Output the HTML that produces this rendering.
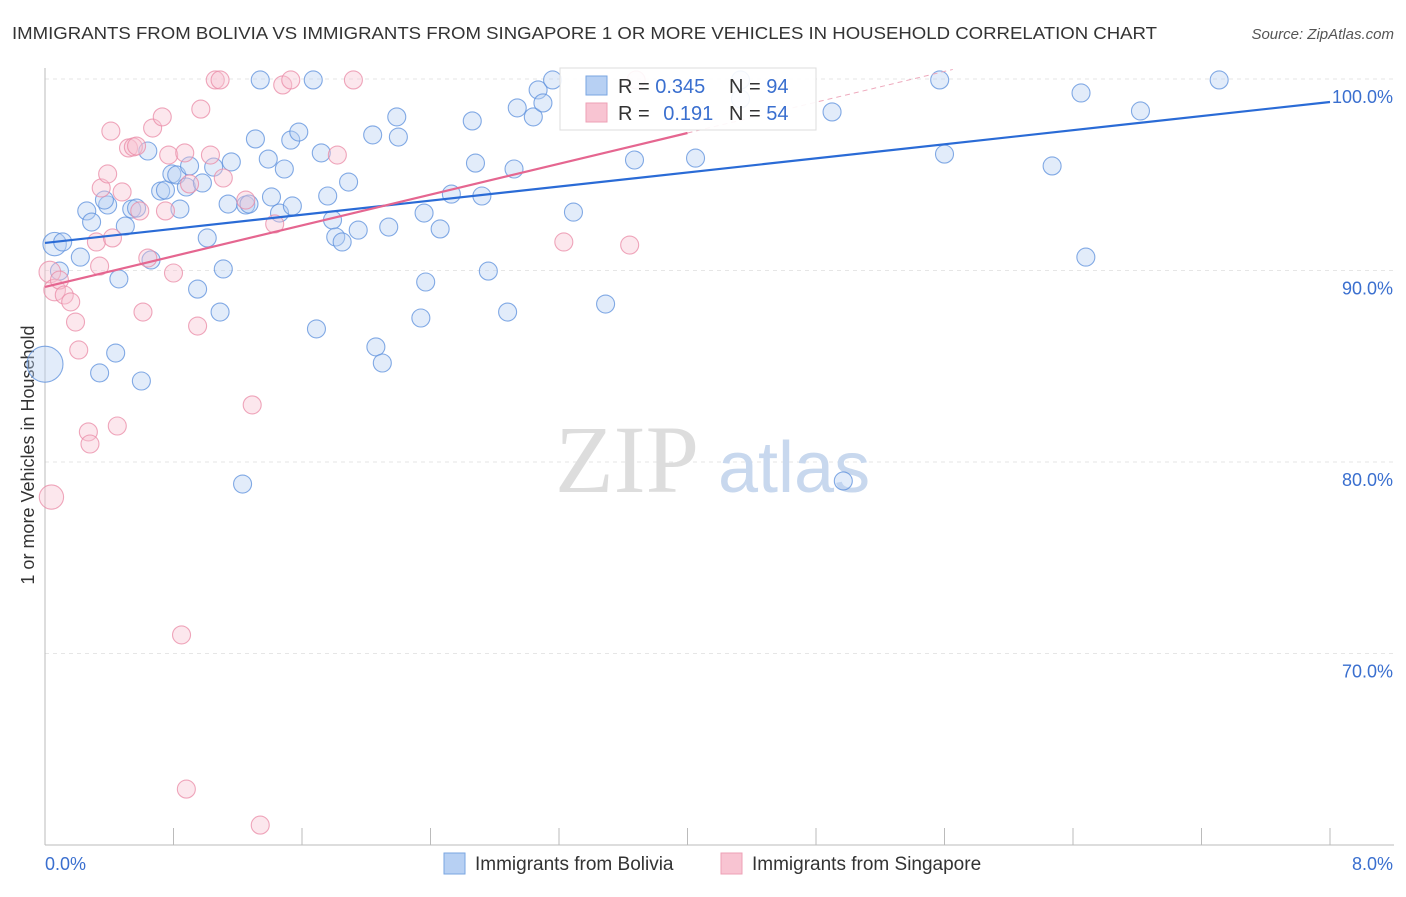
<!DOCTYPE html>
<html><head><meta charset="utf-8"><style>
body{margin:0;background:#fff;font-family:"Liberation Sans",sans-serif;}
</style></head><body>
<svg width="1406" height="892" viewBox="0 0 1406 892" xmlns="http://www.w3.org/2000/svg" id="chart">
<text x="12" y="39" font-size="17.5" fill="#333" textLength="1145" lengthAdjust="spacingAndGlyphs">IMMIGRANTS FROM BOLIVIA VS IMMIGRANTS FROM SINGAPORE 1 OR MORE VEHICLES IN HOUSEHOLD CORRELATION CHART</text>
<text x="1394" y="39" font-size="15" fill="#555" font-style="italic" text-anchor="end">Source: ZipAtlas.com</text>
<text x="34" y="455" font-size="18" fill="#333" text-anchor="middle" transform="rotate(-90 34 455)">1 or more Vehicles in Household</text>
<g id="grid"></g>
<g id="ticks"></g>
<text x="555" y="492" font-size="96" fill="#ddd" font-family="Liberation Serif">ZIP</text>
<text x="718" y="492" font-size="72" fill="#c8d8ee">atlas</text>
<g id="pts"></g>
<g id="lines"></g>
<g>
<rect x="560" y="68" width="256" height="62" fill="#fff" fill-opacity="0.9" stroke="#ddd"/>
<rect x="586" y="76" width="21" height="19" fill="#b7d0f3" stroke="#7aa6e2"/>
<rect x="586" y="103" width="21" height="19" fill="#f8c4d2" stroke="#eea0b6"/>
<text x="618" y="93" font-size="20" fill="#333">R = <tspan fill="#3a6fcf">0.345</tspan></text>
<text x="729" y="93" font-size="20" fill="#333">N = <tspan fill="#3a6fcf">94</tspan></text>
<text x="618" y="120" font-size="20" fill="#333">R = <tspan fill="#3a6fcf" dx="8">0.191</tspan></text>
<text x="729" y="120" font-size="20" fill="#333">N = <tspan fill="#3a6fcf">54</tspan></text>
</g>
<g>
<rect x="444" y="853" width="21" height="21" fill="#b7d0f3" stroke="#7aa6e2"/>
<text x="475" y="870" font-size="19" fill="#333">Immigrants from Bolivia</text>
<rect x="721" y="853" width="21" height="21" fill="#f8c4d2" stroke="#eea0b6"/>
<text x="752" y="870" font-size="19" fill="#333">Immigrants from Singapore</text>
</g>
<text x="45" y="870" font-size="18" fill="#3a6fcf">0.0%</text>
<text x="1393" y="870" font-size="18" fill="#3a6fcf" text-anchor="end">8.0%</text>
</svg>
<script>
const yTicks=[100,90,80,70];
const yTickLabels=["100.0%","90.0%","80.0%","70.0%"];
const xTicks=[0,0.8,1.6,2.4,3.2,4.0,4.8,5.6,6.4,7.2,8.0];
const boliviaX=[0.06,0.0,0.11,0.09,0.22,0.26,0.29,0.34,0.39,0.37,0.44,0.46,0.50,0.54,0.57,0.60,0.64,0.66,0.72,0.75,0.79,0.82,0.84,0.88,0.90,0.95,0.98,1.01,1.05,1.09,1.11,1.14,1.16,1.23,1.25,1.27,1.31,1.34,1.39,1.41,1.46,1.49,1.53,1.54,1.58,1.67,1.69,1.72,1.76,1.79,1.81,1.85,1.89,1.95,2.04,2.06,2.10,2.14,2.19,2.20,2.34,2.36,2.37,2.46,2.53,2.66,2.68,2.72,2.76,2.88,2.92,2.94,3.04,3.07,3.10,3.16,3.29,3.49,3.67,4.05,4.33,4.33,4.90,4.97,5.57,5.60,6.27,6.45,6.48,6.82,7.31];
const boliviaY=[91.38,85.11,91.49,89.97,90.70,93.11,92.53,84.65,93.42,93.68,85.69,89.56,92.32,93.21,93.26,84.23,96.24,90.55,94.15,94.20,95.04,94.99,93.21,94.36,95.46,89.03,94.57,91.70,95.40,87.83,90.08,93.47,95.67,78.85,93.42,93.47,96.87,99.95,95.82,93.84,93.00,95.30,96.81,93.37,97.23,99.95,86.95,96.14,93.89,92.64,91.75,91.49,94.62,92.11,97.08,86.01,85.17,92.27,98.02,96.97,87.52,93.00,89.40,92.17,93.99,97.81,95.61,93.89,89.97,87.83,95.30,98.49,98.02,99.43,98.75,99.95,93.05,88.25,95.77,95.87,99.95,98.96,98.28,79.01,99.95,96.08,95.46,99.27,90.70,98.33,99.95];
const boliviaSize=[1.3,2,1,1,1,1,1,1,1,1,1,1,1,1,1,1,1,1,1,1,1,1,1,1,1,1,1,1,1,1,1,1,1,1,1,1,1,1,1,1,1,1,1,1,1,1,1,1,1,1,1,1,1,1,1,1,1,1,1,1,1,1,1,1,1,1,1,1,1,1,1,1,1,1,1,1,1,1,1,1,1,1,1,1,1,1,1,1,1,1,1];
const singX=[0.04,0.03,0.06,0.09,0.12,0.16,0.19,0.21,0.27,0.28,0.32,0.34,0.35,0.39,0.41,0.42,0.45,0.48,0.52,0.55,0.57,0.59,0.61,0.64,0.67,0.73,0.75,0.77,0.80,0.85,0.87,0.88,0.90,0.95,0.97,1.03,1.06,1.09,1.11,1.25,1.29,1.34,1.43,1.48,1.53,1.82,1.92,3.23,3.64,3.68];
const singY=[78.17,89.92,88.98,89.50,88.72,88.36,87.31,85.85,81.57,80.94,91.49,90.23,94.31,95.04,97.28,91.70,81.88,94.10,96.40,96.45,96.50,93.11,87.83,90.65,97.44,98.02,93.11,96.03,89.87,70.97,96.14,62.92,94.52,87.10,98.43,96.03,99.95,99.95,94.83,93.68,82.98,61.04,92.43,99.69,99.95,96.03,99.95,91.49,91.33,99.95];
const singSize=[1.35,1.2,1.2,1,1,1,1,1,1,1,1,1,1,1,1,1,1,1,1,1,1,1,1,1,1,1,1,1,1,1,1,1,1,1,1,1,1,1,1,1,1,1,1,1,1,1,1,1,1,1];
const boliviaFit=[91.44,0.92];
const singFit=[89.14,2.01];
const NS="http://www.w3.org/2000/svg";
function sx(v){return 45+v*(1285/8);}
function sy(v){return 79+(100-v)*19.15;}
function mk(tag,attrs,parent){const e=document.createElementNS(NS,tag);for(const k in attrs)e.setAttribute(k,attrs[k]);parent.appendChild(e);return e;}
const grid=document.getElementById('grid'),ticks=document.getElementById('ticks'),pts=document.getElementById('pts'),lines=document.getElementById('lines');
yTicks.forEach((t,i)=>{
  const l=mk('line',{x1:45,x2:1394,y1:sy(t),y2:sy(t),stroke:'#e6e6e6','stroke-dasharray':'4,4'},grid);
  
  
  const tx=mk('text',{x:1393,y:sy(t)+24,'font-size':18,fill:'#3a6fcf','text-anchor':'end'},ticks);
  tx.textContent=yTickLabels[i];
  
  
});
mk('line',{x1:45,x2:45,y1:68,y2:845,stroke:'#bbb'},ticks);
mk('line',{x1:45,x2:1394,y1:845,y2:845,stroke:'#bbb'},ticks);
xTicks.forEach(t=>{
  const l=mk('line',{x1:sx(t),x2:sx(t),y1:828,y2:845,stroke:'#bbb'},ticks);
  
  
});
function series(X,Y,S,fill,stroke,name){
  X.forEach((x,i)=>{
    const c=mk('circle',{cx:sx(x),cy:sy(Y[i]),r:9*S[i],fill:fill,'fill-opacity':0.4,stroke:stroke,'stroke-opacity':0.75,'stroke-width':1.1},pts);
    
    
  });
}
series(boliviaX,boliviaY,boliviaSize,'#b7d0f3','#5b8fdc','point-bolivia');
series(singX,singY,singSize,'#f8c4d2','#ea8aa6','point-singapore');
let l=mk('line',{x1:sx(0),y1:sy(boliviaFit[0]),x2:sx(8),y2:sy(boliviaFit[0]+8*boliviaFit[1]),stroke:'#2a6bd6','stroke-width':2.2},lines);


l=mk('line',{x1:sx(0),y1:sy(singFit[0]),x2:sx(4),y2:sy(singFit[0]+4*singFit[1]),stroke:'#e56690','stroke-width':2.2},lines);


const xe=(100.5-singFit[0])/singFit[1];
l=mk('line',{x1:sx(4),y1:sy(singFit[0]+4*singFit[1]),x2:sx(xe),y2:sy(singFit[0]+xe*singFit[1]),stroke:'#eeaabd','stroke-width':1,'stroke-dasharray':'5,4'},lines);


</script>
</body></html>
